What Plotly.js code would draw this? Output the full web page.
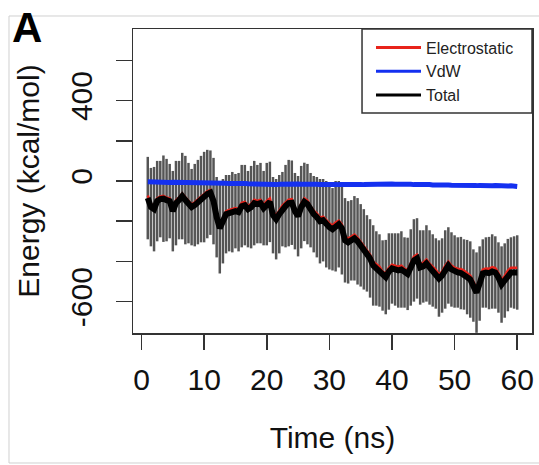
<!DOCTYPE html>
<html>
<head>
<meta charset="utf-8">
<script src="https://cdn.plot.ly/plotly-3.0.1.min.js"></script>
<style>html,body{margin:0;padding:0;background:#fff;}#chart{width:539px;height:465px;}</style>
</head>
<body>
<div id="chart"></div>
<script>
const time = [1,1.5,2,2.5,3,3.5,4,4.5,5,5.5,6,6.5,7,7.5,8,8.5,9,9.5,10,10.5,
11,11.5,12,12.5,13,13.5,14,14.5,15,15.5,16,16.5,17,17.5,18,18.5,19,19.5,20,20.5,
21,21.5,22,22.5,23,23.5,24,24.5,25,25.5,26,26.5,27,27.5,28,28.5,29,29.5,30,30.5,
31,31.5,32,32.5,33,33.5,34,34.5,35,35.5,36,36.5,37,37.5,38,38.5,39,39.5,40,40.5,
41,41.5,42,42.5,43,43.5,44,44.5,45,45.5,46,46.5,47,47.5,48,48.5,49,49.5,50,50.5,
51,51.5,52,52.5,53,53.5,54,54.5,55,55.5,56,56.5,57,57.5,58,58.5,59,59.5,60];

const total = [-85,-130,-140,-100,-90,-88,-95,-100,-150,-110,
 -95,-75,-95,-110,-130,-120,-105,-90,-80,-65,
 -58,-100,-180,-235,-200,-165,-160,-155,-150,-155,
 -125,-120,-140,-130,-110,-115,-110,-135,-115,-104,
 -170,-190,-165,-140,-125,-110,-108,-150,-175,-130,
 -104,-115,-145,-165,-180,-200,-195,-215,-230,-240,
 -225,-215,-235,-295,-305,-295,-285,-300,-320,-340,
 -360,-385,-420,-435,-445,-470,-478,-450,-435,-440,
 -445,-440,-455,-462,-430,-395,-385,-430,-425,-410,
 -430,-445,-460,-485,-470,-440,-420,-440,-450,-455,
 -458,-465,-478,-490,-520,-555,-510,-460,-455,-458,
 -450,-455,-480,-515,-495,-468,-455,-455,-455];

const electrostatic = [-72,-115,-124,-86,-77,-74,-82,-86,-135,-96,
 -82,-62,-81,-96,-116,-106,-92,-77,-67,-51,
 -44,-86,-164,-218,-184,-150,-144,-139,-134,-139,
 -108,-104,-124,-113,-93,-99,-93,-118,-99,-87,
 -152,-172,-148,-122,-107,-93,-90,-132,-157,-112,
 -86,-97,-127,-147,-161,-182,-177,-196,-211,-221,
 -206,-197,-216,-276,-286,-276,-266,-281,-301,-321,
 -341,-366,-401,-416,-426,-451,-459,-431,-416,-421,
 -426,-421,-436,-443,-411,-376,-366,-411,-406,-391,
 -411,-426,-441,-466,-451,-421,-401,-421,-431,-436,
 -438,-445,-458,-470,-500,-535,-490,-440,-435,-437,
 -428,-433,-458,-493,-472,-445,-432,-432,-432];

const vdw = [-4,-5,-4,-6,-5,-5,-6,-7,-6,-6,
 -7,-6,-7,-8,-7,-8,-8,-7,-8,-9,
 -9,-10,-9,-11,-12,-11,-13,-12,-12,-13,
 -14,-13,-14,-15,-14,-15,-16,-18,-20,-22,
 -20,-18,-16,-15,-16,-17,-16,-15,-15,-16,
 -15,-16,-15,-14,-16,-17,-16,-18,-17,-16,
 -17,-18,-17,-16,-18,-19,-17,-16,-17,-18,
 -17,-16,-15,-14,-16,-15,-14,-13,-15,-16,
 -15,-16,-14,-15,-16,-18,-17,-16,-18,-19,
 -18,-20,-19,-21,-22,-21,-20,-21,-22,-21,
 -22,-23,-22,-21,-22,-23,-22,-24,-23,-22,
 -24,-23,-25,-27,-26,-25,-24,-26,-27];

const totalErr = [205,195,210,200,190,215,205,185,200,210,
 195,215,220,200,190,205,210,215,225,220,
 210,215,200,225,210,195,190,200,185,195,
 205,200,190,205,210,195,200,185,205,200,
 190,200,195,185,205,215,210,190,200,205,
 195,200,185,190,200,210,205,215,210,205,
 225,215,230,210,205,200,210,215,205,200,
 190,195,200,185,180,175,185,190,175,180,
 185,190,175,180,190,205,200,185,180,190,
 185,180,175,190,185,195,190,185,180,175,
 180,175,185,190,180,200,185,170,175,180,
 185,180,175,190,185,180,175,180,185];

const seriesNames = ['Electrostatic', 'VdW', 'Total'];
const seriesColors = ['#e8231b', '#1430f0', '#000000'];

const xTicks = [0,10,20,30,40,50,60];
const yTicks = [-600,-400,-200,0,200,400,600];
const yTickText = ['-600','','','0','','400',''];

const FONT = 'Liberation Sans, Arial, Helvetica, sans-serif';

const traces = [
  {x: time, y: total, type: 'scatter', mode: 'markers', showlegend: false, hoverinfo: 'skip',
   marker: {size: 1, color: 'rgba(0,0,0,0)'},
   error_y: {type: 'data', array: totalErr, visible: true, color: '#555555', thickness: 2.5, width: 0}},
  {x: time, y: electrostatic, type: 'scatter', mode: 'lines', name: seriesNames[0], showlegend: false,
   legendgroup: 'e', line: {color: seriesColors[0], width: 2.5}},
  {x: time, y: total, type: 'scatter', mode: 'lines', name: seriesNames[2], showlegend: false,
   legendgroup: 't', line: {color: seriesColors[2], width: 6}},
  {x: time, y: vdw, type: 'scatter', mode: 'lines', name: seriesNames[1], showlegend: false,
   legendgroup: 'v', line: {color: seriesColors[1], width: 5}}
];
// legend-only entries with uniform line samples
seriesNames.forEach((n, i) => {
  traces.push({x: [null], y: [null], type: 'scatter', mode: 'lines', name: n, legendrank: i + 1,
    line: {color: seriesColors[i], width: 3}, hoverinfo: 'skip'});
});

const layout = {
  width: 539, height: 465,
  margin: {l: 133, r: 7, t: 29, b: 132, pad: 0},
  paper_bgcolor: '#ffffff', plot_bgcolor: '#ffffff',
  font: {family: FONT, color: '#111', size: 30},
  showlegend: true,
  legend: {x: 0.5965, y: 0.995, xanchor: 'left', yanchor: 'top', bgcolor: 'rgba(0,0,0,0)',
    borderwidth: 0, font: {family: FONT, size: 16, color: '#222'}, itemwidth: 45, traceorder: 'normal'},
  xaxis: {range: [-1.36, 62.36], tickvals: xTicks, ticks: 'outside', ticklen: 15, tickwidth: 1.5,
    tickcolor: '#333', showline: true, mirror: true, linecolor: '#333', linewidth: 1.5,
    showgrid: false, zeroline: false, ticklabelstandoff: 4,
    tickfont: {family: FONT, size: 30, color: '#111'},
    title: {text: 'Time (ns)', font: {family: FONT, size: 30, color: '#111'}, standoff: 32}},
  yaxis: {range: [-756, 756], tickvals: yTicks, ticktext: yTickText, ticks: 'outside', ticklen: 16,
    tickwidth: 1.5, tickcolor: '#333', showline: true, mirror: true, linecolor: '#333', linewidth: 1.5,
    showgrid: false, zeroline: false, tickangle: -90, ticklabelstandoff: 12,
    tickfont: {family: FONT, size: 30, color: '#111'},
    title: {text: 'Energy (kcal/mol)', font: {family: FONT, size: 30, color: '#111'}, standoff: 16}},
  shapes: [
    {type: 'rect', xref: 'paper', yref: 'paper', x0: 0.574, x1: 1, y0: 0.7237, y1: 1,
     line: {color: '#333', width: 1.5}, fillcolor: 'rgba(0,0,0,0)'},
    {type: 'rect', xref: 'paper', yref: 'paper', x0: -0.3108, x1: 1.04, y0: -0.4276, y1: 1.0428,
     line: {color: '#d0d0d0', width: 1}, fillcolor: 'rgba(0,0,0,0)', layer: 'below'}
  ],
  annotations: [
    {text: '<b>A</b>', xref: 'paper', yref: 'paper', x: -0.309, y: 1.088, xanchor: 'left', yanchor: 'top',
     showarrow: false, font: {family: FONT, size: 42, color: '#000'}}
  ]
};

Plotly.newPlot('chart', traces, layout, {displayModeBar: false, staticPlot: true});
</script>
</body>
</html>
